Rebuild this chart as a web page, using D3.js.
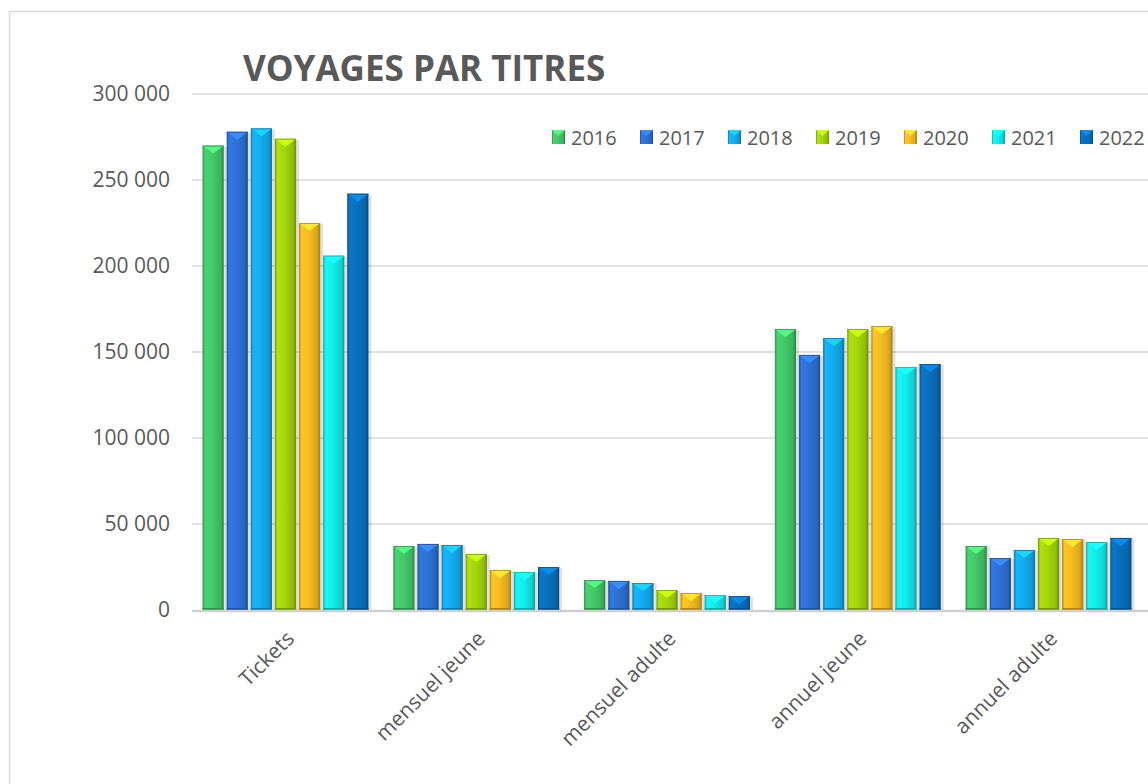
<!DOCTYPE html>
<html>
<head>
<meta charset="utf-8">
<script src="https://cdnjs.cloudflare.com/ajax/libs/d3/7.8.5/d3.min.js"></script>
<style>
  html, body { margin: 0; padding: 0; background: #fff; }
  svg { display: block; font-family: "Open Sans", sans-serif; }
</style>
</head>
<body>
<svg id="chart" width="1148" height="784"></svg>
<script>
// values
var categories = ['Tickets', 'mensuel jeune', 'mensuel adulte', 'annuel jeune', 'annuel adulte'];
var years = ['2016', '2017', '2018', '2019', '2020', '2021', '2022'];
var v2016 = [270000, 37200, 17400, 163400, 37200];
var v2017 = [278000, 38400, 16900, 148300, 30200];
var v2018 = [280000, 37800, 15700, 158100, 34900];
var v2019 = [274000, 32600, 11600, 163400, 41900];
var v2020 = [225000, 23300, 9900, 165100, 41300];
var v2021 = [206000, 22100, 8700, 141300, 39500];
var v2022 = [242000, 25000, 8100, 143000, 41900];
var yTicks = [0, 50000, 100000, 150000, 200000, 250000, 300000];

var series = [v2016, v2017, v2018, v2019, v2020, v2021, v2022];
var colors = ['#44c96a', '#2e72d6', '#14acf0', '#a4d60c', '#f6bc22', '#14ecea', '#0a70be'];

var svg = d3.select('#chart');
var margin = {left: 192, right: 6, top: 94, bottom: 174};
var width = 1148 - margin.left - margin.right,
    height = 784 - margin.top - margin.bottom;

// chart frame
svg.append('rect')
    .attr('x', 9.5).attr('y', 11.5)
    .attr('width', 1148).attr('height', 784)
    .attr('fill', '#fff')
    .attr('stroke', '#d9d9d9')
    .attr('stroke-width', 1.5);

// gradients for the bevelled bars
var defs = svg.append('defs');
colors.forEach(function(c, i) {
    var base = d3.color(c);
    var g = defs.append('linearGradient')
        .attr('id', 'grad' + i)
        .attr('x1', 0).attr('x2', 1).attr('y1', 0).attr('y2', 0);
    g.append('stop').attr('offset', '0%').attr('stop-color', base.darker(0.9));
    g.append('stop').attr('offset', '12%').attr('stop-color', base.brighter(0.15));
    g.append('stop').attr('offset', '45%').attr('stop-color', base);
    g.append('stop').attr('offset', '85%').attr('stop-color', base.darker(0.35));
    g.append('stop').attr('offset', '100%').attr('stop-color', base.darker(1.2));
});

var x0 = d3.scaleBand()
    .domain(categories)
    .range([0, width])
    .paddingInner(0.1)
    .paddingOuter(0.04);

var x1 = d3.scaleBand()
    .domain(years)
    .range([0, x0.bandwidth()])
    .padding(0.12);

var y = d3.scaleLinear()
    .domain([0, 300000])
    .range([height, 0]);

var fmt = function(d) { return d3.format(',')(d).replace(/,/g, ' '); };

var g = svg.append('g')
    .attr('transform', 'translate(' + margin.left + ',' + margin.top + ')');

// gridlines
g.append('g')
    .attr('class', 'grid')
    .selectAll('line')
    .data(yTicks.filter(function(d) { return d > 0; }))
    .enter().append('line')
    .attr('x1', 0).attr('x2', width + 10)
    .attr('y1', function(d) { return y(d); })
    .attr('y2', function(d) { return y(d); })
    .attr('stroke', '#d9d9d9')
    .attr('stroke-width', 1.5);

// y axis labels
var yAxis = d3.axisLeft(y).tickValues(yTicks).tickFormat(fmt).tickSize(0).tickPadding(22);
var ya = g.append('g').call(yAxis);
ya.select('.domain').remove();
ya.selectAll('text')
    .attr('fill', '#595959')
    .style('font-size', '21px')
    .style('font-family', '"Open Sans", sans-serif');

// bars
var groups = g.selectAll('.group')
    .data(categories)
    .enter().append('g')
    .attr('class', 'group')
    .attr('transform', function(d) { return 'translate(' + x0(d) + ',0)'; });

groups.each(function(cat, ci) {
    var grp = d3.select(this);
    years.forEach(function(yr, si) {
        var val = series[si][ci];
        var bx = x1(yr), bw = x1.bandwidth(), by = y(val), bh = height - by;
        var base = d3.color(colors[si]);
        // soft shadow
        grp.append('rect')
            .attr('x', bx + 1).attr('y', by + 1)
            .attr('width', bw + 2).attr('height', bh)
            .attr('fill', '#000').attr('opacity', 0.12);
        grp.append('rect')
            .attr('x', bx).attr('y', by)
            .attr('width', bw).attr('height', bh)
            .attr('fill', 'url(#grad' + si + ')');
        // top bevel
        var th = Math.min(8, bh);
        grp.append('polygon')
            .attr('points', [[bx, by], [bx + bw, by], [bx + bw / 2, by + th]].join(' '))
            .attr('fill', base.brighter(0.6));
        grp.append('line')
            .attr('x1', bx).attr('x2', bx + bw)
            .attr('y1', by + 0.5).attr('y2', by + 0.5)
            .attr('stroke', base.darker(0.6)).attr('stroke-width', 1);
        // bottom edge
        grp.append('rect')
            .attr('x', bx).attr('y', height - 2)
            .attr('width', bw).attr('height', 2)
            .attr('fill', base.darker(1));
    });
});

// baseline
g.append('line')
    .attr('x1', 0).attr('x2', width + 10)
    .attr('y1', height + 1).attr('y2', height + 1)
    .attr('stroke', '#d0d0d0')
    .attr('stroke-width', 2.5);

// category labels
g.selectAll('.cat')
    .data(categories)
    .enter().append('text')
    .attr('class', 'cat')
    .attr('transform', function(d) {
        return 'translate(' + (x0(d) + x0.bandwidth() / 2 + 10) + ',' + (height + 30) + ') rotate(-45)';
    })
    .attr('text-anchor', 'end')
    .attr('fill', '#595959')
    .style('font-size', '21px')
    .text(function(d) { return d; });

// title
svg.append('text')
    .attr('x', 243).attr('y', 81)
    .attr('fill', '#595959')
    .style('font-size', '35px')
    .style('font-weight', 'bold')
    .text('VOYAGES PAR TITRES');

// legend
var legend = svg.append('g').attr('class', 'legend');
var items = legend.selectAll('g')
    .data(years)
    .enter().append('g')
    .attr('transform', function(d, i) { return 'translate(' + (552 + i * 88) + ',130)'; });
items.append('rect')
    .attr('width', 13).attr('height', 14)
    .attr('fill', function(d, i) { return 'url(#grad' + i + ')'; });
items.append('polygon')
    .attr('points', '0,0 13,0 6.5,6')
    .attr('fill', function(d, i) { return d3.color(colors[i]).brighter(0.6); });
items.append('text')
    .attr('x', 19).attr('y', 14.5)
    .attr('fill', '#595959')
    .style('font-size', '20px')
    .text(function(d) { return d; });
</script>
</body>
</html>
